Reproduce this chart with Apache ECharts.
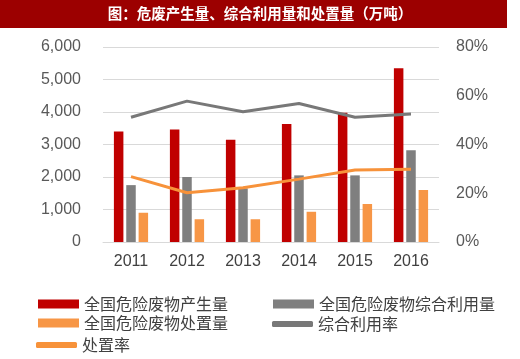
<!DOCTYPE html>
<html><head><meta charset="utf-8">
<script src="https://cdn.jsdelivr.net/npm/echarts@6/dist/echarts.min.js"></script>
<style>html,body{margin:0;padding:0;background:#fff}#c{width:520px;height:359px}</style>
</head><body><div id="c"></div>
<script>
const categories = ['2011','2012','2013','2014','2015','2016'];
const produced = [3400, 3460, 3150, 3630, 3980, 5350];
const utilized = [1750, 2000, 1650, 2050, 2050, 2820];
const disposed = [900, 700, 700, 930, 1170, 1600];
const utilRate = [51.2, 57.8, 53.4, 56.8, 51.2, 52.5];
const dispRate = [26.8, 20.2, 22.3, 25.8, 29.5, 29.8];
const leftTicks = {min: 0, max: 6000, interval: 1000};
const rightTicks = {min: 0, max: 80, interval: 20};

const RED = '#c00000', GRAY = '#7f7f7f', ORANGE = '#f79646', LGRAY = '#787878', LORANGE = '#f7923a';
const chart = echarts.init(document.getElementById('c'));
const legText = {fontSize: 16, color: '#404040', fontFamily: 'Noto Sans CJK SC'};
function leg(name, left, top, icon, h) {
  return {data: [name], left: left, top: top, icon: icon, itemWidth: 41, itemHeight: h, itemGap: 0,
    textStyle: legText, padding: 0, selectedMode: false};
}
chart.setOption({
  animation: false,
  graphic: [
    {type: 'rect', shape: {x: 0, y: 0, width: 507, height: 28}, style: {fill: '#9c0000'}},
    {type: 'text', left: 'center', top: 6, x: -5, style: {text: '图：危废产生量、综合利用量和处置量（万吨）', fill: '#fff', fontSize: 14.5, fontWeight: 'bold', fontFamily: 'Noto Sans CJK SC'}}
  ],
  legend: [
    leg('全国危险废物产生量', 38, 296, 'rect', 9),
    leg('全国危险废物综合利用量', 273, 296, 'rect', 9),
    leg('全国危险废物处置量', 38, 315, 'rect', 9),
    leg('综合利用率', 272, 316, 'roundRect', 6),
    leg('处置率', 36, 337, 'roundRect', 6)
  ],
  grid: {left: 103, right: 81, top: 47, bottom: 117},
  xAxis: {type: 'category', data: categories,
    axisLine: {lineStyle: {color: '#d9d9d9', width: 1}}, axisTick: {show: false},
    axisLabel: {color: '#404040', fontSize: 16, margin: 12, fontFamily: 'Liberation Sans'}},
  yAxis: [
    {type: 'value', min: leftTicks.min, max: leftTicks.max, interval: leftTicks.interval,
      axisLabel: {color: '#595959', fontSize: 16, margin: 22, fontFamily: 'Liberation Sans',
        formatter: v => v.toLocaleString('en-US')},
      splitLine: {lineStyle: {color: '#d9d9d9', width: 1}}, axisLine: {show: false}, axisTick: {show: false}},
    {type: 'value', min: rightTicks.min, max: rightTicks.max, interval: rightTicks.interval,
      axisLabel: {color: '#595959', fontSize: 16, margin: 17, fontFamily: 'Liberation Sans', formatter: v => v + '%'},
      splitLine: {show: false}, axisLine: {show: false}, axisTick: {show: false}}
  ],
  series: [
    {name: '全国危险废物产生量', type: 'bar', data: produced, barWidth: 9.5, barGap: '30%', itemStyle: {color: RED}},
    {name: '全国危险废物综合利用量', type: 'bar', data: utilized, barWidth: 9.5, barGap: '30%', itemStyle: {color: GRAY}},
    {name: '全国危险废物处置量', type: 'bar', data: disposed, barWidth: 9.5, barGap: '30%', itemStyle: {color: ORANGE}},
    {name: '综合利用率', type: 'line', yAxisIndex: 1, data: utilRate, showSymbol: false, symbol: 'none',
      lineStyle: {color: LGRAY, width: 3}, itemStyle: {color: LGRAY}},
    {name: '处置率', type: 'line', yAxisIndex: 1, data: dispRate, showSymbol: false, symbol: 'none',
      lineStyle: {color: LORANGE, width: 3}, itemStyle: {color: LORANGE}}
  ]
});
</script></body></html>
